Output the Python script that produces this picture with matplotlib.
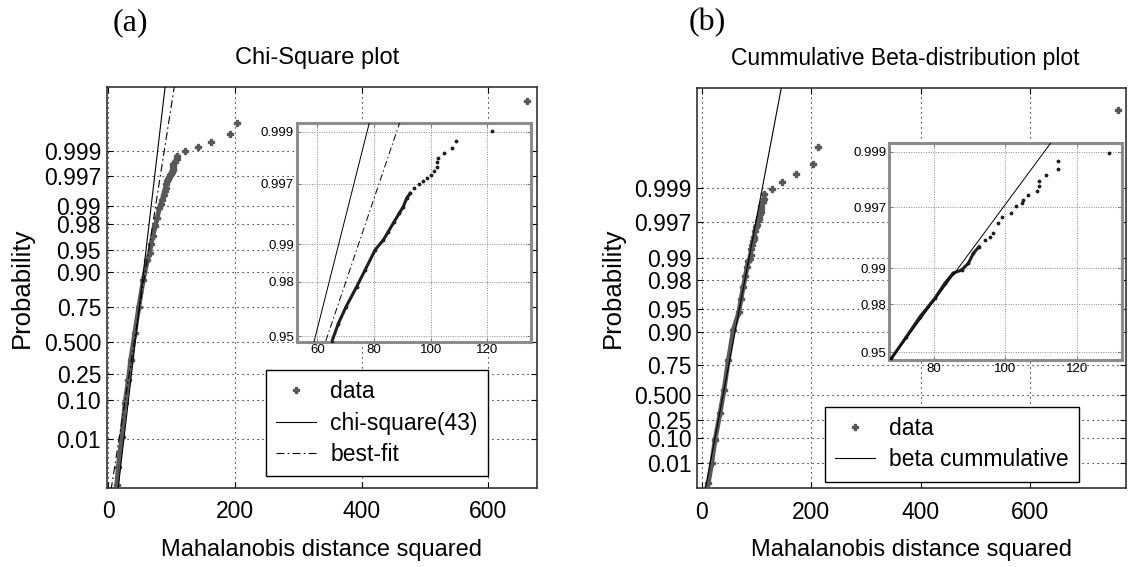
import numpy as np
import matplotlib
matplotlib.use("Agg")
import matplotlib.pyplot as plt
from matplotlib.ticker import NullLocator
from statistics import NormalDist

plt.rcParams['font.family'] = ['Liberation Sans', 'DejaVu Sans']
SERIF = ['Liberation Serif', 'DejaVu Serif']

# =============================================================================
# DATA: Mahalanobis d^2 vs plotting probability
# =============================================================================

# (a) chi-square plot
chi_d2 = [13.0, 15.5, 20.9, 26.1, 31.3, 35.0, 41.5, 48.0, 55.0, 61.5,
          65.1, 67.4, 70.1, 73.9, 76.8, 80.4, 83.3, 85.0, 87.1, 88.9,
          90.3, 91.5, 92.7, 94.1, 95.9, 97.2, 98.6, 100.0, 101.3, 102.1,
          102.1, 102.5, 104.7, 107.5, 108.9, 121.5, 141.9, 161.5, 192.0, 203.5,
          660.7]
chi_prob = [5.4e-5, 6.75e-4, 0.0117, 0.0849, 0.2061, 0.3527, 0.5668, 0.7496, 0.8743, 0.930,
            0.9453, 0.9592, 0.9691, 0.9783, 0.9838, 0.9889, 0.99079, 0.99213, 0.99353, 0.99452,
            0.99519, 0.99593, 0.99633, 0.99669, 0.99695, 0.99715, 0.99731, 0.99748, 0.99770, 0.99786,
            0.99807, 0.99823, 0.99841, 0.99859, 0.99878, 0.99901, 0.99920, 0.99935, 0.99956, 0.99973,
            0.999907]
chi_line_d2 = [12.0, 102.7]          # chi-square(43) reference line
chi_line_prob = [1e-6, 0.999999]
fit_line_d2 = [0.1, 121.7]           # best-fit line
fit_line_prob = [1e-6, 0.999999]

# (b) cumulative beta plot
beta_d2 = [9.5, 12.4, 18.6, 24.7, 33.8, 41.1, 49.0, 58.1, 68.0, 72.2,
           76.0, 80.2, 83.0, 85.3, 87.7, 89.6, 91.0, 92.6, 94.2, 95.6,
           96.4, 98.0, 98.9, 101.5, 102.9, 104.7, 104.8, 106.4, 108.9, 109.4,
           109.4, 111.4, 114.7, 114.8, 129.0, 147.6, 172.6, 204.2, 213.3, 760.2]
beta_prob = [5.5e-5, 2.16e-4, 0.00964, 0.0891, 0.3141, 0.5481, 0.7782, 0.90456, 0.94409, 0.96270,
             0.97447, 0.98214, 0.98665, 0.98902, 0.98970, 0.99097, 0.99258, 0.99349, 0.99428, 0.99465,
             0.99500, 0.99594, 0.99639, 0.99667, 0.99708, 0.99727, 0.99740, 0.99765, 0.99784, 0.99804,
             0.99823, 0.99842, 0.99860, 0.99880, 0.99898, 0.99918, 0.99937, 0.99955, 0.99974, 0.99992]
beta_line_d2 = [3.8, 187.5]
beta_line_prob = [1e-6, 0.999999]

main_ticks = [0.01, 0.10, 0.25, 0.5, 0.75, 0.90, 0.95, 0.98, 0.99, 0.997, 0.999]
main_labels = ['0.01', '0.10', '0.25', '0.500', '0.75', '0.90', '0.95', '0.98', '0.99', '0.997', '0.999']
inset_ticks = [0.95, 0.98, 0.99, 0.997, 0.999]
inset_labels = ['0.95', '0.98', '0.99', '0.997', '0.999']

# =============================================================================
# PROBABILITY SCALES
# =============================================================================
_N = NormalDist()
_ppf = np.vectorize(_N.inv_cdf, otypes=[float])
_cdf = np.vectorize(_N.cdf, otypes=[float])


def _z(p):
    return _ppf(np.clip(np.asarray(p, float), 1e-15, 1 - 1e-15))


# chi-square(43) quantile axis (Wilson-Hilferty)
K = 43
A = 1 - 2 / (9 * K)
B = np.sqrt(2 / (9 * K))


def chi_fwd(p):
    return K * (A + B * _z(p)) ** 3


def chi_inv(q):
    return _cdf((np.cbrt(np.asarray(q, float) / K) - A) / B)


# beta quantile axis (skewed, ~log-normal shape)
S = 0.3


def beta_fwd(p):
    return np.exp(S * _z(p))


def beta_inv(f):
    return _cdf(np.log(np.clip(np.asarray(f, float), 1e-300, None)) / S)


# =============================================================================
# FIGURE
# =============================================================================
W, H = 1135, 567
fig = plt.figure(figsize=(W / 100, H / 100), dpi=100)
fig.patch.set_facecolor('white')

GRAY = '#585858'
DASHDOT = (0, (7, 3, 1.5, 3))


def style_main(ax, xlim, ylim):
    ax.set_xlim(xlim)
    ax.set_ylim(ylim)
    ax.set_xticks([0, 200, 400, 600])
    ax.set_yticks(main_ticks)
    ax.set_yticklabels(main_labels)
    ax.yaxis.set_minor_locator(NullLocator())
    ax.tick_params(direction='in', length=4, top=True, right=True, width=0.8)
    ax.tick_params(axis='y', labelsize=16.5, pad=4)
    ax.tick_params(axis='x', labelsize=16.5, pad=9)
    ax.grid(True, color='k', ls=(0, (1, 3.5)), lw=0.8)
    for sp in ax.spines.values():
        sp.set_color('#333333')
        sp.set_linewidth(1.2)
    ax.set_xlabel('Mahalanobis distance squared', fontsize=17, labelpad=11)
    ax.set_ylabel('Probability', fontsize=18.5, labelpad=7)


def style_inset(ax, xlim, ylim, xticks):
    ax.set_xlim(xlim)
    ax.set_ylim(ylim)
    ax.set_xticks(xticks)
    ax.set_yticks(inset_ticks)
    ax.set_yticklabels(inset_labels)
    ax.yaxis.set_minor_locator(NullLocator())
    ax.tick_params(direction='in', length=3, color='#777777', labelsize=9.5, pad=2,
                   top=True, right=True)
    ax.grid(True, color='#8a8a8a', ls=(0, (1, 1.5)), lw=0.7)
    for sp in ax.spines.values():
        sp.set_color('#8c8c8c')
        sp.set_linewidth(2.2)
    ax.set_facecolor('white')


def legend(ax, x, y):
    leg = ax.legend(loc='upper left', bbox_to_anchor=(x / W, 1 - y / H),
                    bbox_transform=fig.transFigure, fontsize=16.5, numpoints=1,
                    fancybox=False, framealpha=1, edgecolor='k', borderpad=0.45,
                    handlelength=1.75, handletextpad=0.6, labelspacing=0.36,
                    borderaxespad=0)
    leg.get_frame().set_linewidth(1.0)
    leg.set_zorder(5)


# ---------------- (a) Chi-square plot ----------------
axL = fig.add_axes([106.7 / W, 1 - 488 / H, 430.3 / W, 401 / H])
axL.set_yscale('function', functions=(chi_fwd, chi_inv))
axL.plot(chi_d2[:35], chi_prob[:35], color=GRAY, lw=3.4, solid_capstyle='round',
         zorder=2, label='_nolegend_')
axL.plot(chi_d2, chi_prob, ls='none', marker='P', ms=4.5, color=GRAY, zorder=3, label='data')
axL.plot(chi_line_d2, chi_line_prob, color='k', lw=0.8, zorder=4, label='chi-square(43)')
axL.plot(fit_line_d2, fit_line_prob, color='k', lw=0.8, ls=DASHDOT, zorder=4, label='best-fit')
style_main(axL, (-2.8, 677), (3.4e-5, 1 - 4.5e-5))
legend(axL, 266, 370)

insL = fig.add_axes([296.7 / W, 1 - 341.7 / H, 234 / W, 218.4 / H])
insL.set_yscale('function', functions=(chi_fwd, chi_inv))
insL.plot(chi_d2[:23], chi_prob[:23], color='#1e1e1e', lw=2.2, zorder=2)
insL.plot(chi_d2, chi_prob, ls='none', marker='.', ms=3.5, color='#1e1e1e', zorder=3)
insL.plot(chi_line_d2, chi_line_prob, color='k', lw=0.7, zorder=4)
insL.plot(fit_line_d2, fit_line_prob, color='k', lw=0.7, ls=DASHDOT, zorder=4)
style_inset(insL, (52.7, 135.3), (0.9453, 0.99917), [60, 80, 100, 120])

# ---------------- (b) Cumulative beta plot ----------------
axR = fig.add_axes([697.3 / W, 1 - 488.3 / H, 428.7 / W, 400.6 / H])
axR.set_yscale('function', functions=(beta_fwd, beta_inv))
axR.plot(beta_d2[:34], beta_prob[:34], color=GRAY, lw=3.4, solid_capstyle='round',
         zorder=2, label='_nolegend_')
axR.plot(beta_d2, beta_prob, ls='none', marker='P', ms=4.5, color=GRAY, zorder=3, label='data')
axR.plot(beta_line_d2, beta_line_prob, color='k', lw=0.8, zorder=4, label='beta cummulative')
style_main(axR, (-7.7, 775.3), (4.9e-5, 1 - 3.9e-5))
legend(axR, 825, 406.7)

insR = fig.add_axes([889.3 / W, 1 - 360 / H, 232.4 / W, 217.3 / H])
insR.set_yscale('function', functions=(beta_fwd, beta_inv))
insR.plot(beta_d2[:18], beta_prob[:18], color='#1e1e1e', lw=2.2, zorder=2)
insR.plot(beta_d2, beta_prob, ls='none', marker='.', ms=3.5, color='#1e1e1e', zorder=3)
insR.plot(beta_line_d2, beta_line_prob, color='k', lw=0.7, zorder=4)
style_inset(insR, (67.4, 132.6), (0.9424, 0.99916), [80, 100, 120])

# ---------------- titles / panel letters ----------------
fig.text(130 / W, 1 - 23 / H, '(a)', family=SERIF, fontsize=23, ha='center', va='center')
fig.text(707.5 / W, 1 - 23 / H, '(b)', family=SERIF, fontsize=23, ha='center', va='center')
fig.text(317 / W, 1 - 58 / H, 'Chi-Square plot', fontsize=17, ha='center', va='center')
fig.text(905 / W, 1 - 58 / H, 'Cummulative Beta-distribution plot', fontsize=16.5,
         ha='center', va='center')

fig.savefig('out.png', dpi=100, facecolor='white')
